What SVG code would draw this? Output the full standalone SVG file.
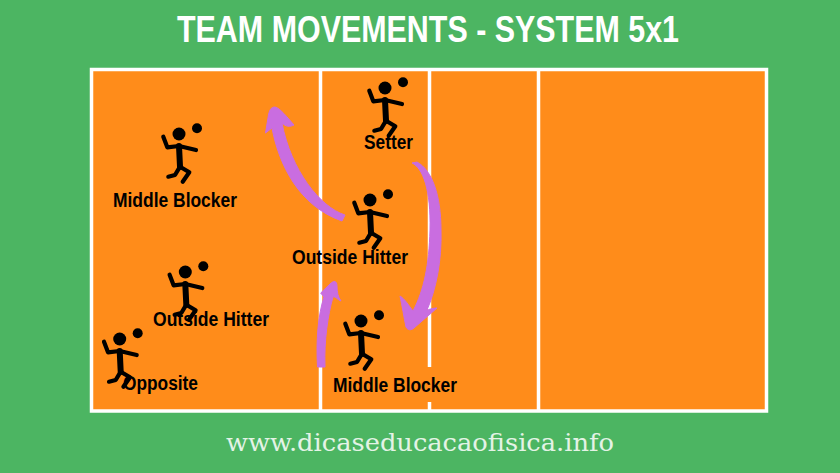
<svg xmlns="http://www.w3.org/2000/svg" xmlns:xlink="http://www.w3.org/1999/xlink" width="840" height="473" viewBox="0 0 840 473">
<style>
.lab{font-family:"Liberation Sans",Arial,sans-serif;font-weight:700;font-size:20px;fill:#000}
.title{font-family:"Liberation Sans",Arial,sans-serif;font-weight:700;font-size:36px;fill:#fff}
.foot{font-family:"DejaVu Serif","Liberation Serif",serif;font-size:25px;fill:#e4f3e6}
.line{stroke:#fff;stroke-width:3.5;fill:none}
.arrow{fill:#c96de0;stroke:#c96de0;stroke-width:1;stroke-linejoin:round}
.limb{fill:none;stroke:#000;stroke-width:4.2;stroke-linecap:round;stroke-linejoin:round}
</style>
<defs>
<g id="player">
<circle cx="0" cy="0" r="6.500" fill="#000"/>
<circle cx="18" cy="-5.700" r="5" fill="#000"/>
<path class="limb" d="M-15.700,2.700 L-11.700,13.300 L0,12 L17,16"/>
<path d="M0,12 L1,32.700" class="limb" style="stroke-width:6"/>
<path class="limb" d="M-10.700,42.700 L-4,41 L1,32.700 L10.300,38.300 L3.700,47.700"/>
</g>
</defs>
<rect width="840" height="473" fill="#4cb562"/>
<text class="title" x="177" y="42" textLength="502" lengthAdjust="spacingAndGlyphs">TEAM MOVEMENTS - SYSTEM 5x1</text>
<g id="court">
<rect x="91.500" y="69.500" width="675" height="341.500" class="line" style="fill:#ff8c1a"/>
<path class="line" d="M320.500,69.500V411M429.500,69.500V411M538.500,69.500V411"/>
<rect x="423" y="367" width="14" height="35" fill="#ff8c1a"/>
</g>
<g id="connectors">
<path class="arrow" d="M345,215 C320,207 291,170 282,123 C286,127 290,127 294,125 C287,117 280,108 275,107 C271,107 269,110 268,118 L265.500,133 L272,128 C279,165 299,206 342,221 Z"/>
<path class="arrow" d="M317.500,367 C316,340 318,315 324,297 L320.700,293 L330,284 C334,280 337,281 337,286 C337,292 338,297 341,301 C338,300 335,296 333,297 C328,315 324,340 325,367 Z"/>
<path class="arrow" d="M412,163 C423,168 431,190 430,230 C429,265 424,290 413,311 C409,306 405,299 400,296 C402,305 404,318 406,327 C408,331 412,330 414,328 L437,308 C432,308 428,310 427,310 C436,290 442,260 441,230 C441,195 432,170 417,162 Z"/>
</g>
<g id="node-middle-blocker-1"><use href="#player" xlink:href="#player" x="179" y="134"/><text class="lab" x="113" y="207" textLength="124" lengthAdjust="spacingAndGlyphs">Middle Blocker</text></g>
<g id="node-setter"><use href="#player" xlink:href="#player" x="385" y="88"/><text class="lab" x="364" y="149" textLength="49" lengthAdjust="spacingAndGlyphs">Setter</text></g>
<g id="node-outside-hitter-1"><use href="#player" xlink:href="#player" x="370" y="200"/><text class="lab" x="292" y="264" textLength="116" lengthAdjust="spacingAndGlyphs">Outside Hitter</text></g>
<g id="node-middle-blocker-2"><use href="#player" xlink:href="#player" x="361" y="321"/><text class="lab" x="333" y="392" textLength="124" lengthAdjust="spacingAndGlyphs">Middle Blocker</text></g>
<g id="node-outside-hitter-2"><use href="#player" xlink:href="#player" x="185.300" y="272"/><text class="lab" x="153" y="326" textLength="116" lengthAdjust="spacingAndGlyphs">Outside Hitter</text></g>
<g id="node-opposite"><use href="#player" xlink:href="#player" x="119.700" y="339"/><text class="lab" x="123" y="390" textLength="75" lengthAdjust="spacingAndGlyphs">Opposite</text></g>
<text class="foot" x="226" y="451" textLength="388" lengthAdjust="spacingAndGlyphs">www.dicaseducacaofisica.info</text>
</svg>
